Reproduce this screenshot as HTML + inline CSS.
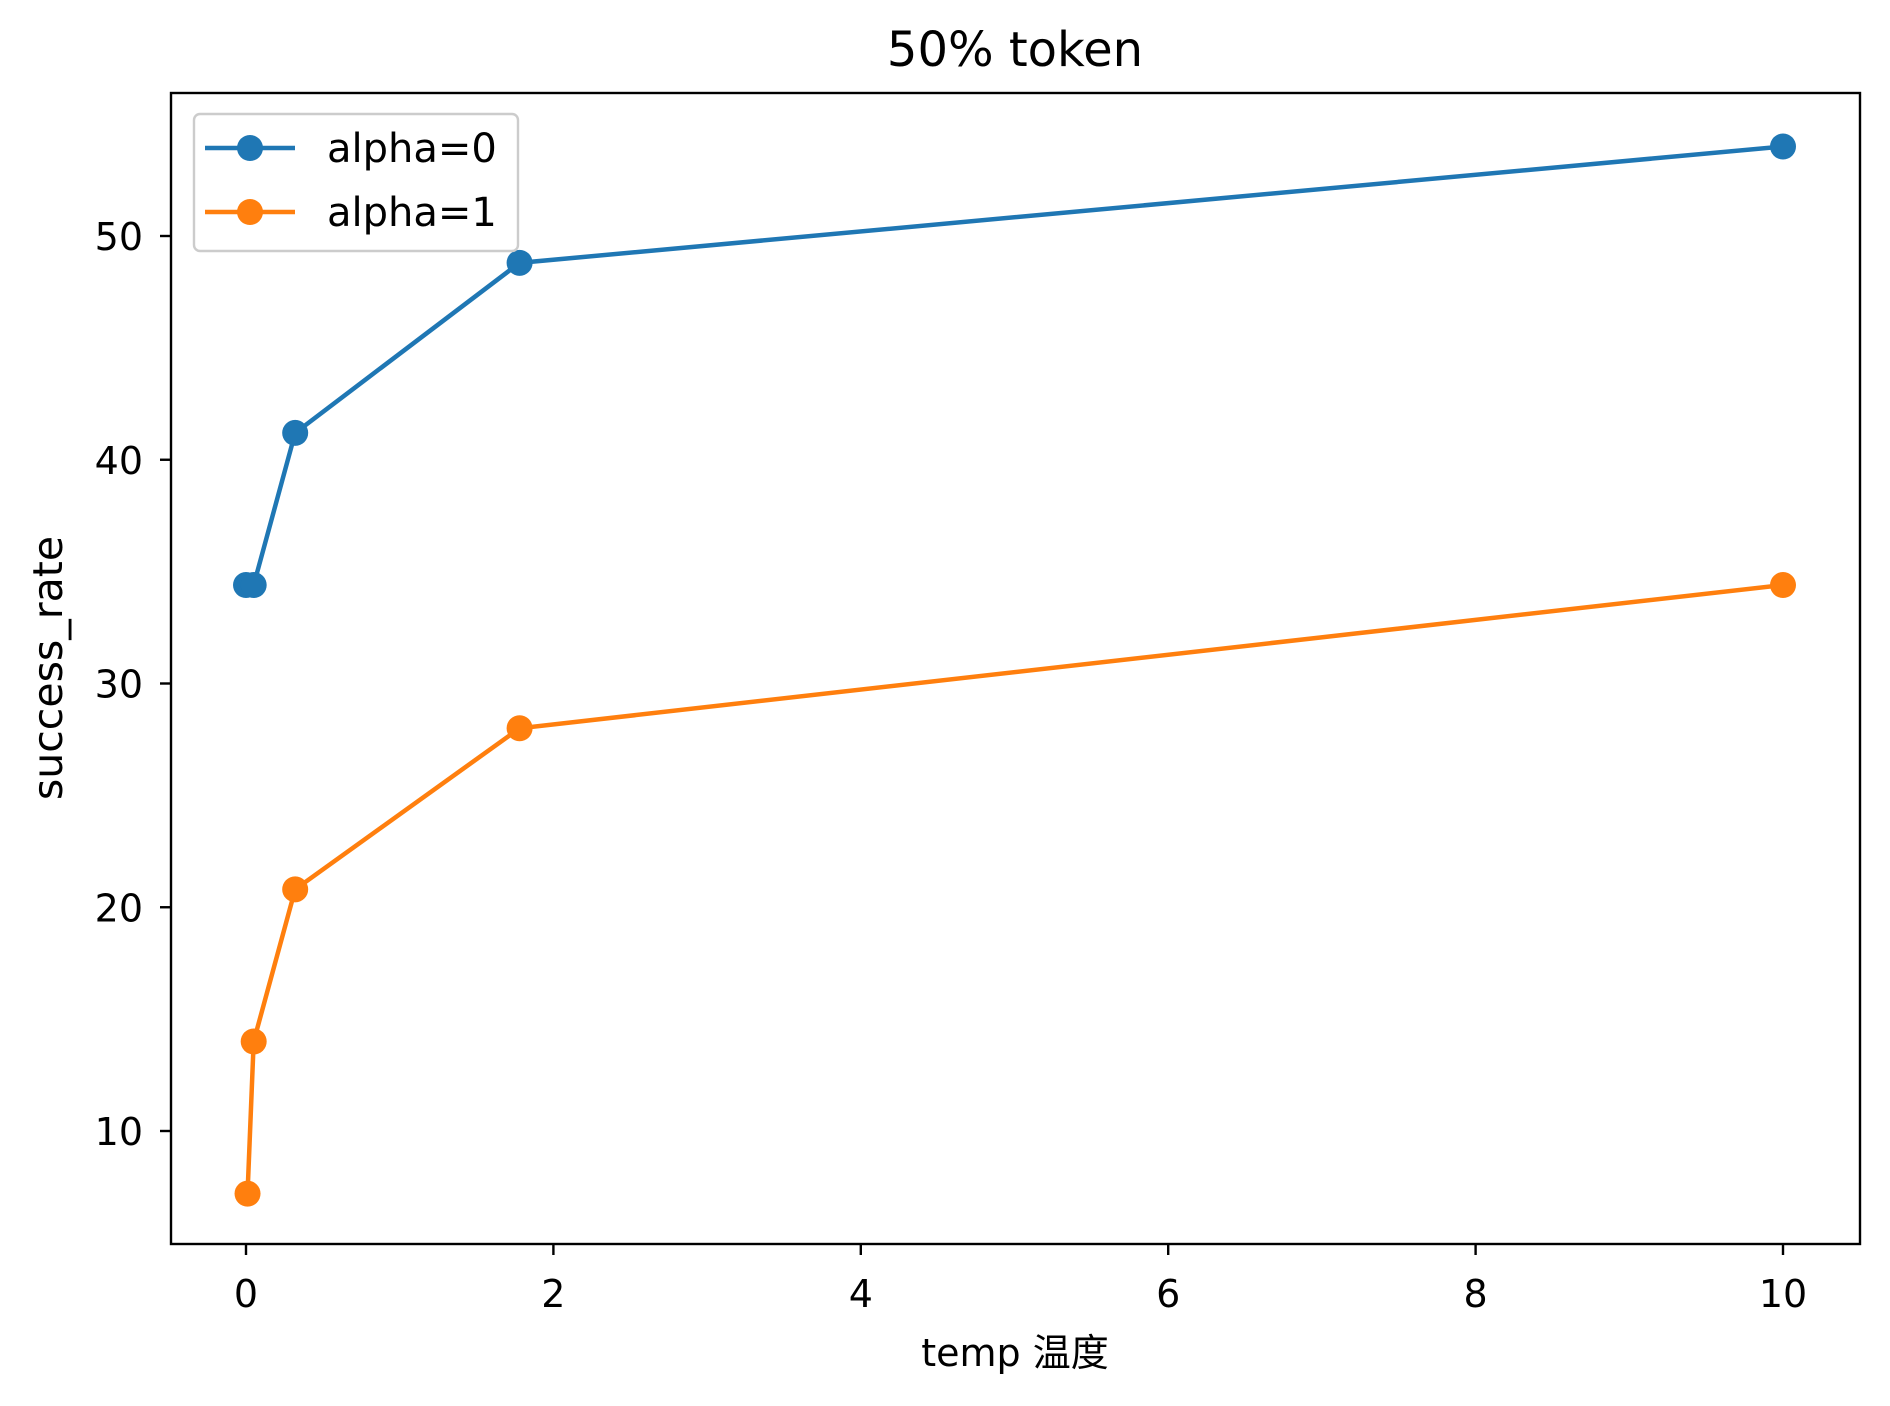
<!DOCTYPE html>
<html><head><meta charset="utf-8"><style>
body{margin:0;background:#fff}
svg{display:block;font-family:"DejaVu Sans","Liberation Sans","Noto Sans CJK SC",sans-serif}
</style></head><body>
<svg id="chart" width="1890" height="1406" viewBox="0 0 1890 1406">
<rect width="1890" height="1406" fill="#fff"/>
<text x="1015" y="66" font-size="48" text-anchor="middle">50% token</text>
<g id="plot"></g>
<rect x="171" y="93" width="1689" height="1151" fill="none" stroke="#000" stroke-width="2.4"/>
<text x="1015" y="1366" font-size="38" text-anchor="middle">temp 温度</text>
<text transform="translate(62,668) rotate(-90)" font-size="41" text-anchor="middle">success_rate</text>
<g>
<rect x="194" y="114" width="324" height="137" rx="6" fill="#fff" fill-opacity="0.8" stroke="#ccc" stroke-width="2.4"/>
<g>
<line x1="205" y1="148" x2="295" y2="148" stroke="#1f77b4" stroke-width="4.5"/>
<circle cx="250" cy="148" r="13" fill="#1f77b4"/>
<text x="327" y="162" font-size="40">alpha=0</text></g>
<g>
<line x1="205" y1="212" x2="295" y2="212" stroke="#ff7f0e" stroke-width="4.5"/>
<circle cx="250" cy="212" r="13" fill="#ff7f0e"/>
<text x="327" y="226" font-size="40">alpha=1</text></g>
</g>
</svg>
<script>
const xTicks=[0,2,4,6,8,10];
const yTicks=[10,20,30,40,50];
const tempsA0=[0,0.05,0.32,1.78,10];
const alpha0=[34.4,34.4,41.2,48.8,54.0];
const tempsA1=[0.01,0.05,0.32,1.78,10];
const alpha1=[7.2,14.0,20.8,28.0,34.4];
const NS="http://www.w3.org/2000/svg";
const X=v=>246+(1783-246)*v/10;
const Y=v=>1131-(1131-236)*(v-10)/40;
const g=document.getElementById('plot');
function mk(t,a){const e=document.createElementNS(NS,t);for(const k in a)e.setAttribute(k,a[k]);g.appendChild(e);return e;}
xTicks.forEach(t=>{
 const l=mk('line',{x1:X(t),x2:X(t),y1:1244,y2:1255,stroke:'#000','stroke-width':2.4});
 
 
 const s=mk('text',{x:X(t),y:1307,'font-size':38,'text-anchor':'middle'});s.textContent=t;
 
 
});
yTicks.forEach(t=>{
 const l=mk('line',{x1:160,x2:171,y1:Y(t),y2:Y(t),stroke:'#000','stroke-width':2.4});
 
 
 const s=mk('text',{x:143,y:Y(t)+14,'font-size':38,'text-anchor':'end'});s.textContent=t;
 
 
});
function series(xs,ys,c,name){
 const p=mk('polyline',{points:xs.map((x,i)=>X(x)+','+Y(ys[i])).join(' '),fill:'none',stroke:c,'stroke-width':4.5});
 
 
 xs.forEach((x,i)=>{const m=mk('circle',{cx:X(x),cy:Y(ys[i]),r:13,fill:c});
 
 });
}
series(tempsA0,alpha0,'#1f77b4','alpha0');
series(tempsA1,alpha1,'#ff7f0e','alpha1');
</script>
</body></html>
